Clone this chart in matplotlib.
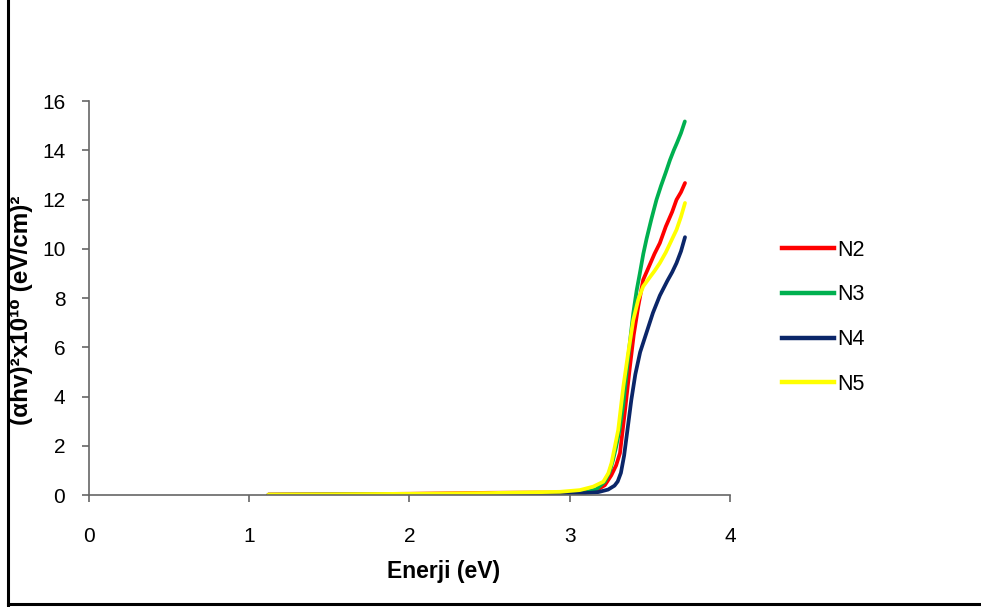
import numpy as np
import matplotlib
matplotlib.use('Agg')
import matplotlib.pyplot as plt
from matplotlib.lines import Line2D

plt.rcParams['font.family'] = ['Liberation Sans', 'DejaVu Sans']

# Datos (energia en eV)
e_n2 = [1.12, 1.5, 2.0, 2.5, 2.8, 3.0, 3.1, 3.17, 3.22, 3.26, 3.29, 3.314, 3.345,
        3.376, 3.40, 3.428, 3.459, 3.49, 3.53, 3.563, 3.60, 3.64, 3.667, 3.695, 3.72]
v_n2 = [0.02, 0.03, 0.05, 0.09, 0.10, 0.10, 0.12, 0.20, 0.40, 0.80, 1.20, 1.70, 3.40,
        5.20, 6.50, 7.65, 8.74, 9.20, 9.80, 10.23, 10.90, 11.50, 11.99, 12.30, 12.67]

e_n3 = [1.12, 2.0, 2.6, 3.0, 3.1, 3.17, 3.22, 3.25, 3.27, 3.29, 3.31, 3.335, 3.355,
        3.376, 3.397, 3.418, 3.438, 3.46, 3.48, 3.51, 3.542, 3.57, 3.60, 3.626, 3.65,
        3.67, 3.695, 3.719]
v_n3 = [0.01, 0.03, 0.05, 0.07, 0.10, 0.25, 0.55, 0.95, 1.40, 1.95, 2.60, 3.70, 4.95,
        6.20, 7.38, 8.30, 9.00, 9.80, 10.40, 11.20, 11.99, 12.55, 13.10, 13.60, 14.00,
        14.30, 14.70, 15.17]

e_n4 = [1.12, 2.0, 2.6, 3.0, 3.1, 3.18, 3.24, 3.28, 3.30, 3.32, 3.34, 3.36, 3.385,
        3.41, 3.44, 3.48, 3.52, 3.563, 3.61, 3.64, 3.667, 3.695, 3.72]
v_n4 = [0.01, 0.03, 0.05, 0.06, 0.08, 0.12, 0.22, 0.38, 0.55, 0.90, 1.60, 2.60, 3.86,
        4.90, 5.80, 6.60, 7.40, 8.10, 8.70, 9.05, 9.42, 9.90, 10.47]

e_n5 = [1.12, 1.5, 2.0, 2.5, 2.94, 3.064, 3.147, 3.21, 3.241, 3.261, 3.282, 3.303,
        3.335, 3.366, 3.397, 3.428, 3.459, 3.49, 3.53, 3.563, 3.60, 3.64, 3.667, 3.695,
        3.72]
v_n5 = [0.02, 0.03, 0.05, 0.08, 0.13, 0.20, 0.34, 0.54, 0.88, 1.29, 1.96, 2.64,
        4.40, 5.80, 7.10, 7.93, 8.47, 8.75, 9.10, 9.42, 9.85, 10.40, 10.77, 11.30,
        11.86]

series = [('N2', e_n2, v_n2, '#FF0000'),
          ('N3', e_n3, v_n3, '#00B050'),
          ('N4', e_n4, v_n4, '#0B2669'),
          ('N5', e_n5, v_n5, '#FFFF00')]

fig = plt.figure(figsize=(9.81, 6.07), dpi=100)
ax = fig.add_axes([0.0907, 0.1845, 0.6533, 0.6491])

for nombre, e, v, c in series:
    ax.plot(e, v, color=c, lw=2.7, label=nombre, solid_capstyle='round',
            solid_joinstyle='round')

ax.set_xlim(0, 4)
ax.set_ylim(0, 16)
ax.set_xticks(range(0, 5))
ax.set_yticks(range(0, 17, 2))
for s in ['top', 'right']:
    ax.spines[s].set_visible(False)
for s in ['left', 'bottom']:
    ax.spines[s].set_color('#666666')
    ax.spines[s].set_linewidth(1.2)
ax.tick_params(axis='both', direction='out', length=5, width=1.2, color='#666666',
               labelsize=15)
ax.tick_params(axis='y', pad=12)
ax.tick_params(axis='x', pad=18)

ax.set_xlabel('Enerji (eV)', fontsize=16.5, fontweight='bold')
ax.xaxis.set_label_coords(0.554, -0.165)
ax.set_ylabel('(αhv)²x10¹⁰ (eV/cm)²', fontsize=17.5, fontweight='bold')
ax.yaxis.set_label_coords(-0.087, 0.47)

handles = [Line2D([0], [0], color=c, lw=3.2) for _, _, _, c in series]
fig.legend(handles, [s[0] for s in series], loc='upper left',
           bbox_to_anchor=(0.797, 0.605), frameon=False, fontsize=15.5,
           handlelength=2.4, handletextpad=0.15, labelspacing=1.1,
           borderpad=0, borderaxespad=0)

# Marco de la figura (solo izquierda y abajo)
fig.add_artist(Line2D([0.0085, 0.0085], [0.003, 1.0], color='black', lw=2.2,
                      transform=fig.transFigure))
fig.add_artist(Line2D([0.0085, 1.0], [0.0045, 0.0045], color='black', lw=2.2,
                      transform=fig.transFigure))

fig.savefig('out.png', dpi=100)
